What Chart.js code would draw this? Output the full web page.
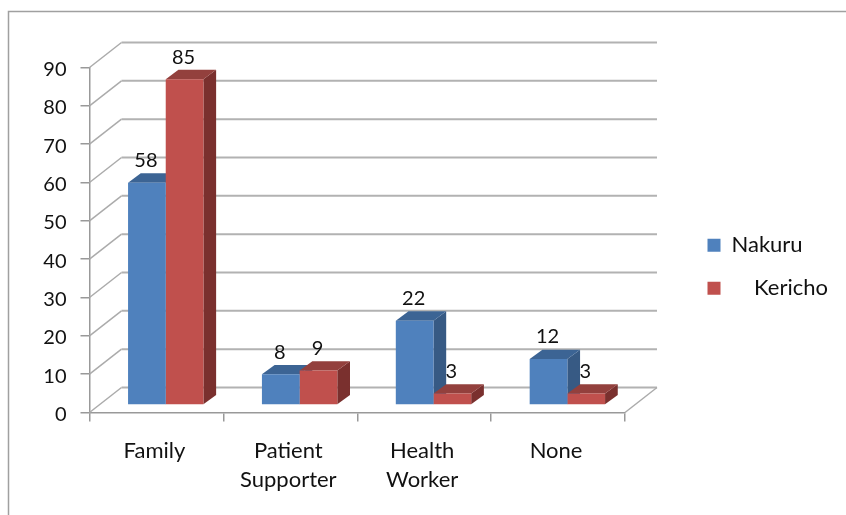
<!DOCTYPE html>
<html>
<head>
<meta charset="utf-8">
<style>
  html, body { margin: 0; padding: 0; background: #fff; }
  canvas { display: block; }
</style>
<script src="https://cdn.jsdelivr.net/npm/chart.js@4"></script>
</head>
<body>
<canvas id="chart" width="846" height="515"></canvas>
<script>
const categories = ['Family', ['Patient', 'Supporter'], ['Health', 'Worker'], 'None'];
const nakuru = [58, 8, 22, 12];
const kericho = [85, 9, 3, 3];
const seriesNames = ['Nakuru', '    Kericho'];
const yTicks = [0, 10, 20, 30, 40, 50, 60, 70, 80, 90];

const FONT = { family: 'Lato', size: 20 };
const LABEL_FONT = { family: 'Lato', size: 22 };
const TEXT = '#111';
const WALL = { dx: 32, dy: -25 };
const BAR_SHIFT = { dx: 9.3, dy: -7.5 };
const BAR_DEPTH = { dx: 12.7, dy: -9.3 };
const TOP_COLORS = ['#3c6494', '#93403d'];
const SIDE_COLORS = ['#375a84', '#7a302e'];

function line(ctx, x1, y1, x2, y2) {
  ctx.beginPath();
  ctx.moveTo(x1, y1);
  ctx.lineTo(x2, y2);
  ctx.stroke();
}

function face(ctx, pts, color) {
  ctx.fillStyle = color;
  ctx.beginPath();
  pts.forEach((p, i) => i ? ctx.lineTo(p[0], p[1]) : ctx.moveTo(p[0], p[1]));
  ctx.closePath();
  ctx.fill();
}

// Chart.js has no offset option for tick labels
function shiftLabels(chart, scale, dx, dy) {
  const drawLabels = scale.constructor.prototype.drawLabels;
  scale.drawLabels = function (area) {
    chart.ctx.save();
    chart.ctx.translate(dx, dy);
    drawLabels.call(this, area);
    chart.ctx.restore();
  };
}

// Outer frame, only top and left survive in the picture
const framePlugin = {
  id: 'frame',
  beforeDraw(chart) {
    const ctx = chart.ctx;
    ctx.save();
    ctx.strokeStyle = '#a0a0a0';
    ctx.lineWidth = 1.5;
    ctx.beginPath();
    ctx.moveTo(8.5, 515);
    ctx.lineTo(8.5, 11.5);
    ctx.lineTo(846, 11.5);
    ctx.stroke();
    ctx.restore();
  },
  afterLayout(chart) {
    // legend sits away from the plot, and labels are clipped to their boxes
    const legend = chart.legend;
    legend.left = 707.5 - legend.options.labels.padding;
    legend.right = 846;
    legend.width = legend.right - legend.left;
    chart.scales.x.bottom = 515;

    shiftLabels(chart, chart.scales.y, 0, 2);
    shiftLabels(chart, chart.scales.x, -2, 0);
  }
};

// Side wall, back wall and floor lines
const wallPlugin = {
  id: 'walls',
  beforeDatasetsDraw(chart) {
    const ctx = chart.ctx;
    const { left, right } = chart.chartArea;
    const y = chart.scales.y;
    ctx.save();
    yTicks.forEach(v => {
      const py = y.getPixelForValue(v);
      ctx.strokeStyle = '#ababab';
      ctx.lineWidth = 1.5;
      line(ctx, left, py, left + WALL.dx, py + WALL.dy);
      ctx.strokeStyle = '#b2b2b2';
      ctx.lineWidth = 2;
      line(ctx, left + WALL.dx, py + WALL.dy, right + WALL.dx, py + WALL.dy);
    });
    const base = y.getPixelForValue(0);
    ctx.strokeStyle = '#ababab';
    ctx.lineWidth = 1.5;
    line(ctx, right, base, right + WALL.dx, base + WALL.dy);
    ctx.restore();

    // top and side faces go first, the fronts are drawn over them
    chart.data.datasets.forEach((ds, i) => {
      chart.getDatasetMeta(i).data.forEach(bar => {
        const l = bar.x - bar.width / 2 + BAR_SHIFT.dx;
        const r = bar.x + bar.width / 2 + BAR_SHIFT.dx;
        const t = bar.y + BAR_SHIFT.dy;
        const b = bar.base + BAR_SHIFT.dy;
        const dx = BAR_DEPTH.dx, dy = BAR_DEPTH.dy;
        face(ctx, [[r, t], [r + dx, t + dy], [r + dx, b + dy], [r, b]], SIDE_COLORS[i]);
        face(ctx, [[l, t], [l + dx, t + dy], [r + dx, t + dy], [r, t]], TOP_COLORS[i]);
      });
    });
  },
  beforeDatasetDraw(chart) {
    chart.ctx.save();
    chart.ctx.translate(BAR_SHIFT.dx, BAR_SHIFT.dy);
  },
  afterDatasetDraw(chart) {
    chart.ctx.restore();
  },
  afterDatasetsDraw(chart) {
    const ctx = chart.ctx;
    ctx.save();
    ctx.font = FONT.size + 'px ' + FONT.family;
    ctx.fillStyle = TEXT;
    ctx.textAlign = 'center';
    ctx.textBaseline = 'middle';
    chart.data.datasets.forEach((ds, i) => {
      chart.getDatasetMeta(i).data.forEach((bar, j) => {
        ctx.fillText(ds.data[j], bar.x + BAR_SHIFT.dx - 1, bar.y + BAR_SHIFT.dy - 22);
      });
    });
    ctx.restore();
  }
};

new Chart(document.getElementById('chart'), {
  type: 'bar',
  data: {
    labels: categories,
    datasets: [
      { label: seriesNames[0], data: nakuru, backgroundColor: '#4f81bd', clip: false },
      { label: seriesNames[1], data: kericho, backgroundColor: '#c0504d', clip: false }
    ]
  },
  options: {
    responsive: false,
    animation: false,
    devicePixelRatio: 1,
    categoryPercentage: 0.563,
    barPercentage: 1,
    layout: { padding: { left: 0, top: 67.5, right: 121, bottom: 49 } },
    plugins: {
      tooltip: { enabled: false },
      legend: {
        position: 'right',
        maxWidth: 100,
        labels: { boxWidth: 13, boxHeight: 13, padding: 21, color: TEXT, font: LABEL_FONT }
      }
    },
    scales: {
      x: {
        afterFit(scale) { scale.height = 53.5; },
        grid: { drawOnChartArea: false, color: '#999', tickLength: 9, lineWidth: 1.5 },
        border: { color: '#999', width: 1.5 },
        ticks: {
          color: TEXT,
          padding: 15,
          maxRotation: 0,
          autoSkip: false,
          font: { family: LABEL_FONT.family, size: LABEL_FONT.size, lineHeight: 1.32 }
        }
      },
      y: {
        min: 0,
        max: 90,
        afterFit(scale) { scale.width = 89.5; },
        afterBuildTicks(scale) { scale.ticks = yTicks.map(v => ({ value: v })); },
        grid: { drawOnChartArea: false, color: '#999', tickLength: 9, lineWidth: 1.5 },
        border: { color: '#999', width: 1.5 },
        ticks: { color: TEXT, padding: 14, font: FONT }
      }
    }
  },
  plugins: [framePlugin, wallPlugin]
});
</script>
</body>
</html>
